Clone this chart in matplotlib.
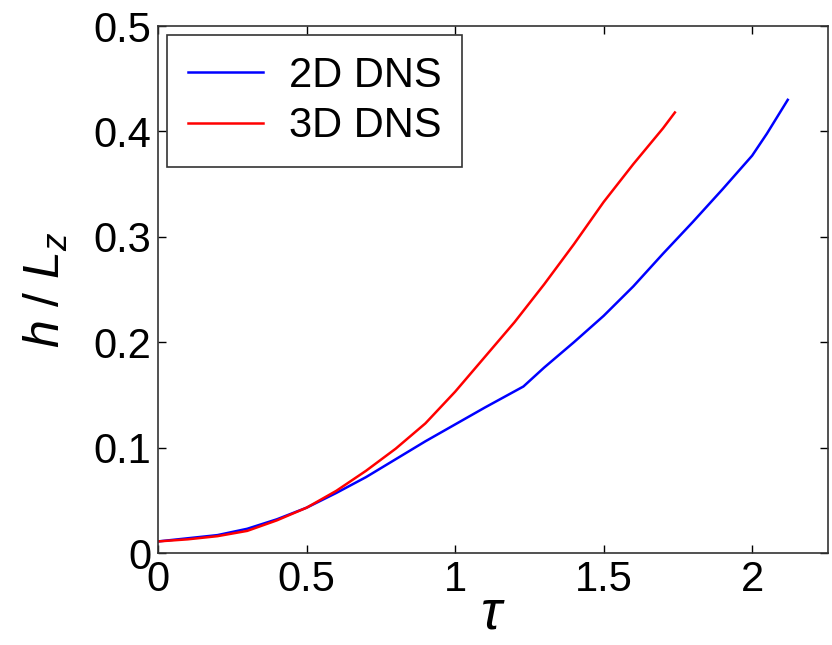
import matplotlib
matplotlib.use("Agg")
import matplotlib.pyplot as plt

plt.rcParams["font.family"] = ["Liberation Sans", "DejaVu Sans"]
plt.rcParams["mathtext.fontset"] = "custom"
plt.rcParams["mathtext.it"] = "Liberation Sans:italic"
plt.rcParams["mathtext.rm"] = "Liberation Sans"

# Mixing-layer height vs. dimensionless time
tau_2d = [0, 0.1, 0.2, 0.3, 0.4, 0.5, 0.6, 0.7, 0.8, 0.9, 1.0, 1.1, 1.23,
          1.3, 1.4, 1.5, 1.6, 1.7, 1.8, 1.9, 2.0, 2.05, 2.12]
h_2d = [0.011, 0.014, 0.017, 0.023, 0.032, 0.043, 0.057, 0.072, 0.089, 0.106,
        0.122, 0.138, 0.158, 0.176, 0.200, 0.225, 0.253, 0.284, 0.314, 0.345,
        0.377, 0.398, 0.430]

tau_3d = [0, 0.1, 0.2, 0.3, 0.4, 0.5, 0.6, 0.7, 0.8, 0.9, 1.0, 1.1, 1.2,
          1.3, 1.4, 1.45, 1.5, 1.55, 1.6, 1.65, 1.7, 1.74]
h_3d = [0.011, 0.013, 0.016, 0.021, 0.031, 0.043, 0.059, 0.078, 0.099, 0.123,
        0.153, 0.186, 0.219, 0.255, 0.293, 0.313, 0.333, 0.351, 0.369, 0.386,
        0.403, 0.418]

xticks = [0, 0.5, 1, 1.5, 2]
xticklabels = ["0", "0.5", "1", "1.5", "2"]
yticks = [0, 0.1, 0.2, 0.3, 0.4, 0.5]
yticklabels = ["0", "0.1", "0.2", "0.3", "0.4", "0.5"]

fig = plt.figure(figsize=(8.32, 6.45), dpi=100)
ax = fig.add_axes([0.190, 0.1426, 0.805, 0.817])

ax.plot(tau_2d, h_2d, color="#0000ff", lw=1.8, label="2D DNS")
ax.plot(tau_3d, h_3d, color="#ff0000", lw=1.8, label="3D DNS")

ax.set_xlim(0, 2.255)
ax.set_ylim(0, 0.5)
ax.set_xticks(xticks)
ax.set_xticklabels(xticklabels)
ax.set_yticks(yticks)
ax.set_yticklabels(yticklabels)
ax.tick_params(direction="in", length=6, width=1.0, labelsize=30,
               top=True, right=True, pad=5)
for s in ax.spines.values():
    s.set_linewidth(1.2)
    s.set_color("#333333")

ax.set_xlabel(r"$\tau$", fontsize=40, labelpad=-8)
ax.set_ylabel(r"$h$ / $L_z$", fontsize=36, labelpad=17)

leg = ax.legend(loc="upper left", fontsize=30, frameon=True, fancybox=False,
                edgecolor="#333333", framealpha=1, handlelength=1.8,
                handletextpad=0.62, borderpad=0.5, labelspacing=0.25,
                borderaxespad=0.22)
leg.get_frame().set_linewidth(1.2)

fig.savefig("out.png", dpi=100)
